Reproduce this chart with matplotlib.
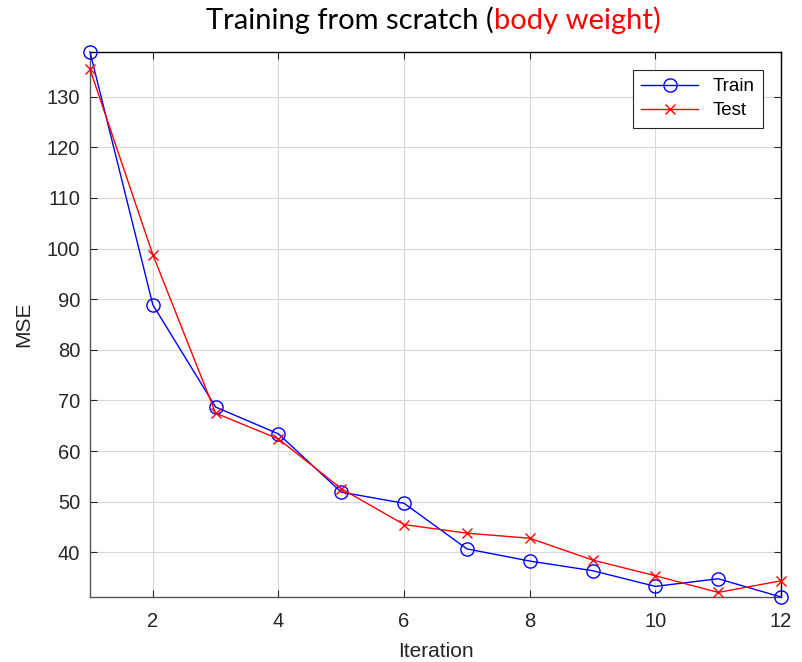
import matplotlib
matplotlib.use("Agg")
import matplotlib.pyplot as plt
import numpy as np

iterations = [1, 2, 3, 4, 5, 6, 7, 8, 9, 10, 11, 12]
train_mse = [138.8, 88.9, 68.7, 63.4, 51.9, 49.7, 40.7, 38.3, 36.4, 33.3, 34.8, 31.2]
test_mse = [135.4, 98.8, 67.5, 62.4, 52.6, 45.5, 43.8, 42.8, 38.5, 35.4, 32.1, 34.4]
xticks = [2, 4, 6, 8, 10, 12]
yticks = [40, 50, 60, 70, 80, 90, 100, 110, 120, 130]

plt.rcParams['font.family'] = ['Liberation Sans', 'DejaVu Sans']

fig = plt.figure(figsize=(8.03, 6.62), dpi=100)
ax = fig.add_axes([90/803, 1-597/662, (781-90)/803, (597-52)/662])

ax.plot(iterations, train_mse, color='blue', marker='o', markersize=9.5,
        markerfacecolor='none', markeredgewidth=1.0, linewidth=1.0, label='Train',
        clip_on=False, zorder=3)
ax.plot(iterations, test_mse, color='red', marker='x', markersize=7,
        markeredgewidth=1.0, linewidth=1.0, label='Test', clip_on=False, zorder=3)

ax.set_xlim(1, 12)
ax.set_ylim(min(train_mse), max(train_mse))
ax.set_xticks(xticks)
ax.set_yticks(yticks)
ax.grid(True, color='#d9d9d9', linewidth=0.8)
ax.set_axisbelow(True)
ax.tick_params(direction='in', top=True, right=True, length=5, labelsize=14.5,
               colors='#262626')
ax.tick_params(axis='x', pad=11)
ax.tick_params(axis='y', pad=7)
for side in ['left', 'bottom']:
    ax.spines[side].set_color('#555555')
for side in ['top', 'right']:
    ax.spines[side].set_color('#000000')
for s in ax.spines.values():
    s.set_linewidth(1.0)

ax.set_xlabel('Iteration', fontsize=15, color='#262626', labelpad=8)
ax.set_ylabel('MSE', fontsize=15, color='#262626', labelpad=10)

leg = ax.legend(loc='upper right', fontsize=13.5, frameon=True, fancybox=False,
                edgecolor='#262626', framealpha=1, borderaxespad=0.95,
                handlelength=3.0, borderpad=0.45, labelspacing=0.35)
leg.get_frame().set_linewidth(0.8)

split_x = 494/803
ty = 1 - 29/662
fig.text(split_x, ty, 'Training from scratch (', ha='right', va='baseline',
         fontsize=21, family=['Lato', 'DejaVu Sans'], color='black')
fig.text(split_x, ty, 'body weight)', ha='left', va='baseline',
         fontsize=21, family=['Lato', 'DejaVu Sans'], color='red')

fig.savefig('out.png', dpi=100)
